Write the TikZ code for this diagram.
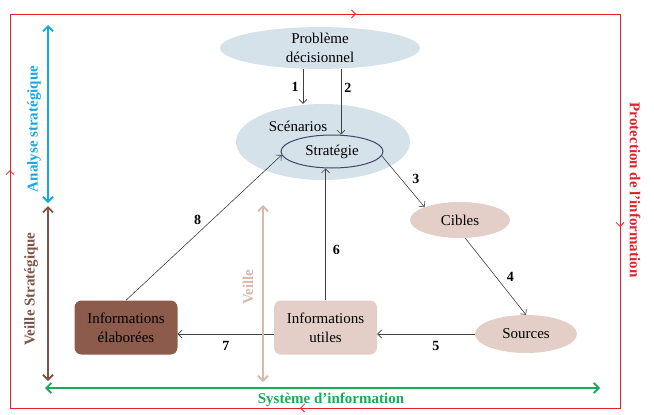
\documentclass[tikz,border=0pt]{standalone}
\usepackage{fontspec}
\setmainfont{Liberation Serif}
\usetikzlibrary{arrows.meta,positioning,shapes.geometric,decorations.markings}

\definecolor{protred}{HTML}{E3202C}
\definecolor{anablue}{HTML}{1AA7E0}
\definecolor{veillebrown}{HTML}{7E5447}
\definecolor{veillelight}{HTML}{D8B9AE}
\definecolor{sysgreen}{HTML}{1BAA5A}
\definecolor{scenblue}{HTML}{D6E2EA}
\definecolor{stratline}{HTML}{3B4A6B}
\definecolor{pinkfill}{HTML}{E3CFC8}
\definecolor{elabfill}{HTML}{8C5B4C}

\begin{document}
\begin{tikzpicture}[
  x=1pt, y=-1pt,
  font=\fontsize{15}{19}\selectfont,
  oval/.style={ellipse, inner sep=0pt, align=center},
  infobox/.style={rectangle, rounded corners=7pt, minimum width=103pt, minimum height=54pt, inner sep=0pt, align=center},
  arrow/.style={-{Straight Barb[length=4pt,width=8pt]}, draw=black!75, line width=0.6pt},
  num/.style={font=\fontsize{14}{14}\selectfont\bfseries, inner sep=1pt},
  spanarrow/.style={{Straight Barb[length=5pt,width=10pt]}-{Straight Barb[length=5pt,width=10pt]}, line width=1.8pt},
  side/.style={font=\fontsize{15}{15}\selectfont\bfseries, inner sep=0pt},
  protloop/.style={draw=protred, line width=0.8pt, decoration={markings,
    mark=at position 238pt with {\arrow[protred]{Straight Barb[length=4pt,width=8pt]}},
    mark=at position 740pt with {\arrow[protred]{Straight Barb[length=4pt,width=8pt]}},
    mark=at position 1217pt with {\arrow[protred]{Straight Barb[length=4pt,width=8pt]}},
    mark=at position 1718pt with {\arrow[protred]{Straight Barb[length=4pt,width=8pt]}}},
    postaction=decorate}
]
  \useasboundingbox (0,0) rectangle (654,415);

  \draw[protloop] (10,408) -- (10,14) -- (620,14) -- (620,408) -- cycle;
  \node[side, text=protred, rotate=-90] (protection) at (635,190) {Protection de l’information};

  \node[oval, fill=scenblue, minimum width=200pt, minimum height=36pt] (prob) at (320,48) {Problème\\décisionnel};
  \node[oval, fill=scenblue, minimum width=174pt, minimum height=76pt] (scen) at (323,142) {};
  \node[inner sep=0pt] (scentext) at ([xshift=-25pt,yshift=16pt]scen.center) {Scénarios};
  \node[oval, draw=stratline, line width=1pt, minimum width=102pt, minimum height=33pt] (strat) at (332,151.5) {Stratégie};
  \node[oval, fill=pinkfill, minimum width=100pt, minimum height=36pt] (cibles) at (460,220) {Cibles};
  \node[oval, fill=pinkfill, minimum width=102pt, minimum height=38pt] (sources) at (526,334) {Sources};
  \node[infobox, fill=pinkfill] (utiles) at (325.5,327.5) {Informations\\utiles};
  \node[infobox, fill=elabfill] (elab) at (126,327.5) {Informations\\élaborées};

  \draw[arrow] ([xshift=-17pt]prob.south) -- ([xshift=-17pt]prob.south |- scen.north) node[num, midway, left=3pt] {1};
  \draw[arrow] ([xshift=21pt]prob.south) -- ([xshift=21pt]prob.south |- strat.north) node[num, pos=0.28, right=2pt] {2};
  \draw[arrow] (strat.-5) -- (cibles.160) node[num, pos=0.45, right=10pt] {3};
  \draw[arrow] (cibles.-74) -- (sources.north) node[num, midway, right=10pt] {4};
  \draw[arrow] (sources.west) -- (sources.west -| utiles.east) node[num, pos=0.4, below=6pt] {5};
  \draw[arrow] (utiles.north) -- (utiles.north |- strat.south) node[num, pos=0.38, right=6pt] {6};
  \draw[arrow] (utiles.west |- sources.west) -- (elab.east |- sources.west) node[num, midway, below=6pt] {7};
  \draw[arrow] (elab.north) -- (strat.184) node[num, midway, above left=2pt] {8};

  \coordinate (ana-top) at (48,25);
  \coordinate (ana-bot) at (48,203);
  \coordinate (vs-top) at (48,206);
  \coordinate (vs-bot) at (48,381);
  \coordinate (veille-top) at (263,205);
  \coordinate (veille-bot) at (263,382);
  \coordinate (sys-left) at (45,388);
  \coordinate (sys-right) at (600,388);

  \draw[spanarrow, anablue] (ana-top) -- (ana-bot);
  \node[side, text=anablue, rotate=90] (analyse) at (34,129) {Analyse stratégique};
  \draw[spanarrow, veillebrown] (vs-top) -- (vs-bot);
  \node[side, text=veillebrown, rotate=90] (vstrat) at (31,289) {Veille Stratégique};
  \draw[spanarrow, veillelight] (veille-top) -- (veille-bot);
  \node[side, text=veillelight, rotate=90] (veille) at (248,287) {Veille};
  \draw[spanarrow, sysgreen] (sys-left) -- (sys-right);
  \node[side, text=sysgreen] (systeme) at (331,400) {Système d’information};
\end{tikzpicture}
\end{document}
